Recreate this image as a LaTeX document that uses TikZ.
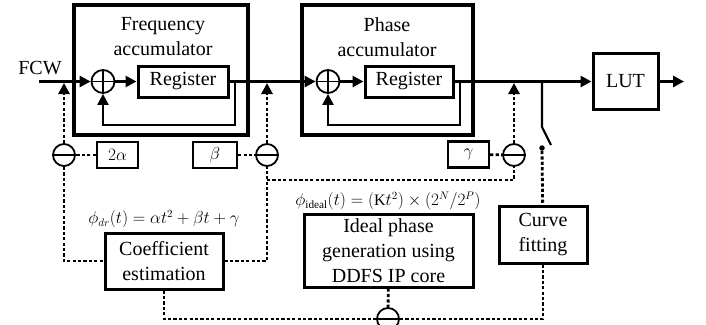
\documentclass[tikz,border=0pt]{standalone}
\usepackage{fontspec}
\setmainfont{Liberation Serif}
\usetikzlibrary{arrows.meta}
\tikzset{
 blk/.style={draw, line width=3pt, inner sep=0pt, font=\fontsize{20}{25}\selectfont, align=center},
 txt/.style={inner sep=0pt, font=\fontsize{20}{25}\selectfont, align=center},
 form/.style={inner sep=0pt, font=\fontsize{16}{18}\selectfont},
 accbox/.style={draw, line width=3.2pt, inner sep=0pt},
 adder/.style={circle, draw, line width=1.8pt, minimum size=23pt, inner sep=0pt,
   path picture={\draw[line width=1.8pt] (path picture bounding box.north) -- (path picture bounding box.south)
     (path picture bounding box.west) -- (path picture bounding box.east);}},
 subtr/.style={circle, draw, line width=1.8pt, minimum size=22pt, inner sep=0pt,
   path picture={\draw[line width=1.8pt] (path picture bounding box.west) -- (path picture bounding box.east);}},
 coefbox/.style={draw, line width=2.4pt, inner sep=0pt, minimum width=41pt, minimum height=26pt, font=\fontsize{16}{16}\selectfont},
 mainln/.style={line width=3pt},
 fbln/.style={line width=2.2pt},
 dsh/.style={line width=2.8pt, dash pattern=on 3.2pt off 2.2pt},
 tip/.style={-{Triangle[length=11pt,width=11pt]}},
 dot/.style={circle, fill, inner sep=0pt, minimum size=5.5pt},
}
\begin{document}
\begin{tikzpicture}[x=1pt,y=-1pt]
\useasboundingbox (0,0) rectangle (706,324);
% accumulators
\node[accbox, minimum width=174pt, minimum height=130pt] (facc) at (161,70) {};
\node[accbox, minimum width=171pt, minimum height=130pt] (pacc) at (387.5,70) {};
\node[txt] (faccT) at (163,37) {Frequency\\accumulator};
\node[txt] (paccT) at (387,37) {Phase\\accumulator};
\node[adder] (fadd) at (103,81.5) {};
\node[blk, minimum width=90pt, minimum height=31pt] (freg) at (183,81.5) {Register};
\node[adder] (padd) at (328,81.5) {};
\node[blk, minimum width=88pt, minimum height=31pt] (preg) at (409,81.5) {Register};
\node[blk, minimum width=65pt, minimum height=56pt] (lut) at (625.5,81.5) {$\mathrm{LUT}$};
\node[txt] (fcw) at (40,68) {FCW};
% coefficient boxes and subtractors
\node[coefbox] (ka) at (117.5,155) {$2\alpha$};
\node[coefbox, minimum width=44pt] (kb) at (215,155) {$\beta$};
\node[coefbox] (kg) at (468.5,154.5) {$\gamma$};
\node[subtr] (m1) at (64,155) {};
\node[subtr] (m2) at (267,155) {};
\node[subtr] (m3) at (514,155) {};
\node[subtr] (m4) at (388,319) {};
% lower blocks
\node[blk, minimum width=118pt, minimum height=56pt] (coef) at (164,261) {Coefficient\\estimation};
\node[blk, minimum width=169pt, minimum height=73pt] (ideal) at (388.5,250.5) {Ideal phase\\generation using\\DDFS IP core};
\node[blk, minimum width=88pt, minimum height=57pt] (curve) at (543,234.5) {Curve\\fitting};
\node[form] (f1) at (164,219) {$\phi_{dr}(t)=\alpha t^2+\beta t+\gamma$};
\node[form] (f2) at (388,201) {$\phi_{\mathrm{ideal}}(t)=\left(\mathrm{K}t^2\right)\times\left(2^N/2^P\right)$};
% main path
\coordinate (fcwin) at (39,81.5);
\coordinate (out) at (684,81.5);
\draw[mainln, tip] (fcwin) -- (fadd);
\draw[mainln, tip] (fadd) -- (freg);
\draw[mainln, tip] (freg) -- (padd);
\draw[mainln, tip] (padd) -- (preg);
\draw[mainln, tip] (preg) -- (lut);
\draw[mainln, tip] (lut) -- (out);
% feedback loops
\coordinate (ffb) at (235,81.5);
\coordinate (ffb2) at (235,125);
\draw[fbln, tip] (ffb) -- (ffb2) -| (fadd.south);
\coordinate (pfb) at (460,81.5);
\coordinate (pfb2) at (460,125);
\draw[fbln, tip] (pfb) -- (pfb2) -| (padd.south);
% corrections
\draw[dsh, tip, shorten >=1.5pt] (m1) -- (m1 |- fcwin);
\draw[dsh, tip, shorten >=1.5pt] (m2) -- (m2 |- fcwin);
\draw[dsh, tip, shorten >=1.5pt] (m3) -- (m3 |- fcwin);
\draw[dsh] (ka) -- (m1);
\draw[dsh] (kb) -- (m2);
\draw[dsh] (kg) -- (m3);
\draw[dsh] (m1) |- (coef);
\draw[dsh] (coef) -| (m2);
\coordinate (br) at (267,180);
\draw[dsh] (br) -| (m3);
\draw[dsh] (coef) |- (m4);
\draw[dsh] (ideal) -- (m4);
\draw[dsh] (curve) |- (m4);
% switch
\coordinate (sw0) at (542,81.5);
\coordinate (sw1) at (542,127);
\coordinate (sw2) at (551,145);
\draw[fbln] (sw0) -- (sw1) -- (sw2);
\node[dot] (swd) at (542,148) {};
\draw[dsh] (swd) -- (curve);
\end{tikzpicture}
\end{document}
